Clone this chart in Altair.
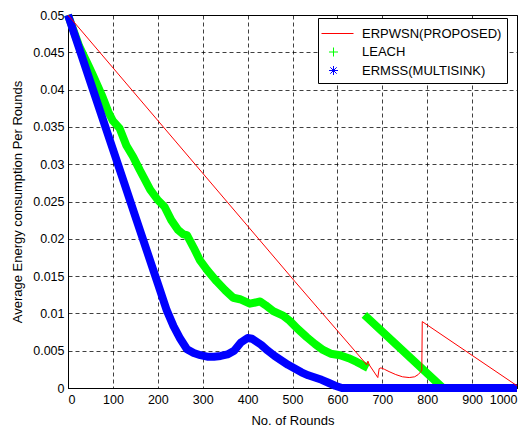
import altair as alt
import pandas as pd

series_names = ["ERPWSN(PROPOSED)", "LEACH", "ERMSS(MULTISINK)"]
series_colors = ["#FF0000", "#00FF00", "#0000FF"]

x_ticks = [0, 100, 200, 300, 400, 500, 600, 700, 800, 900, 1000]
y_ticks = [0, 0.005, 0.01, 0.015, 0.02, 0.025, 0.03, 0.035, 0.04, 0.045, 0.05]

# ERPWSN(PROPOSED)
red_rounds = [0, 505, 660, 665, 668, 671, 690, 693, 697, 705, 715, 730, 745, 760, 772, 780, 786, 788, 789, 1000]
red_values = [0.05, 0.0143, 0.0035, 0.0031, 0.0036, 0.0031, 0.0014, 0.0026, 0.0027, 0.0025, 0.0022, 0.0018,
              0.0015, 0.0014, 0.0015, 0.0018, 0.0022, 0.0024, 0.0089, 0.0003]

# LEACH, first run
green_rounds_1 = [0, 25, 45, 55, 75, 90, 100, 115, 130, 145, 160, 183, 200, 215, 230, 245, 257, 265, 280, 294,
                  310, 331, 350, 368, 383, 405, 428, 440, 457, 479, 494, 510, 532, 550, 568, 585, 606, 625,
                  643, 655, 668]
green_values_1 = [0.05, 0.0458, 0.0433, 0.042, 0.0393, 0.037, 0.0358, 0.0348, 0.0325, 0.031, 0.0292, 0.0266,
                  0.0252, 0.0243, 0.0225, 0.0212, 0.0206, 0.0205, 0.0188, 0.0171, 0.0158, 0.0143, 0.0131,
                  0.0121, 0.0119, 0.0113, 0.0116, 0.0111, 0.0103, 0.0097, 0.009, 0.008, 0.0068, 0.0059,
                  0.0051, 0.0046, 0.0044, 0.004, 0.0035, 0.0031, 0.0027]
# LEACH, second run
green_rounds_2 = [660, 835, 1000]
green_values_2 = [0.0098, 0.0, 0.0]

# ERMSS(MULTISINK)
blue_rounds = [0, 25, 50, 75, 100, 125, 150, 175, 200, 220, 235, 250, 265, 280, 295, 310, 325, 340, 355, 370,
               385, 400, 410, 420, 430, 445, 460, 475, 490, 505, 520, 535, 550, 565, 580, 595, 610, 700, 800,
               900, 1000]
blue_values = [0.05, 0.0455, 0.041, 0.0365, 0.032, 0.0275, 0.023, 0.0185, 0.014, 0.0104, 0.0083, 0.0066,
               0.0052, 0.0047, 0.0044, 0.0042, 0.0042, 0.0043, 0.0045, 0.005, 0.0061, 0.0067, 0.0066, 0.0062,
               0.0058, 0.005, 0.0043, 0.0037, 0.0031, 0.0026, 0.0021, 0.0017, 0.0014, 0.0011, 0.0007, 0.0003,
               0.0, 0.0, 0.0, 0.0, 0.0]


def frame(name, seg, rounds, values):
    return pd.DataFrame({"series": name, "seg": seg, "round": rounds, "value": values,
                         "order": list(range(len(rounds)))})


df_red = frame(series_names[0], "a", red_rounds, red_values)
df_green = pd.concat([frame(series_names[1], "a", green_rounds_1, green_values_1),
                      frame(series_names[1], "b", green_rounds_2, green_values_2)], ignore_index=True)
df_blue = frame(series_names[2], "a", blue_rounds, blue_values)
df_all = pd.concat([df_red, df_green, df_blue], ignore_index=True)

x_enc = alt.X("round:Q", scale=alt.Scale(domain=[0, 1000], nice=False, zero=False),
              axis=alt.Axis(values=x_ticks, title="No. of Rounds", grid=True, format="d",
                            labelPadding=5, titlePadding=9))
y_enc = alt.Y("value:Q", scale=alt.Scale(domain=[0, 0.05], nice=False),
              axis=alt.Axis(values=y_ticks, title="Average Energy consumption Per Rounds", grid=True,
                            format="~g", labelPadding=4, titlePadding=8))

green = alt.Chart(df_green).mark_line(color=series_colors[1], strokeWidth=8, strokeJoin="round").encode(
    x=x_enc, y=y_enc, detail="seg:N", order="order:Q")
blue = alt.Chart(df_blue).mark_line(color=series_colors[2], strokeWidth=8, strokeJoin="round").encode(
    x=x_enc, y=y_enc, order="order:Q")
red = alt.Chart(df_red).mark_line(color=series_colors[0], strokeWidth=1).encode(
    x=x_enc, y=y_enc, order="order:Q")

line_path = "M-1.2,0L2.0,0"
plus_path = "M-0.45,0L0.45,0M0,-0.45L0,0.45"
star_path = "M-0.45,0L0.45,0M0,-0.45L0,0.45M-0.32,-0.32L0.32,0.32M-0.32,0.32L0.32,-0.32"

legend = alt.Legend(title=None, orient="none", legendX=250, legendY=3, fillColor="white",
                    strokeColor="black", padding=5, rowPadding=0.5, symbolSize=400,
                    symbolStrokeWidth=1, symbolOpacity=1, labelFont="Liberation Sans", labelFontSize=13,
                    labelColor="black", labelOffset=18, labelLimit=300, cornerRadius=0)

legend_layer = alt.Chart(df_all).mark_point(opacity=0, filled=False).encode(
    x=x_enc, y=y_enc,
    color=alt.Color("series:N", scale=alt.Scale(domain=series_names, range=series_colors), legend=legend),
    shape=alt.Shape("series:N", scale=alt.Scale(domain=series_names, range=[line_path, plus_path, star_path]),
                    legend=legend),
)

chart = alt.layer(green, blue, red, legend_layer).properties(
    width=449, height=373,
    autosize=alt.AutoSizeParams(type="none"),
    padding={"left": 60, "top": 7, "right": 2, "bottom": 40},
    background="white",
).configure_axis(
    labelFont="Liberation Sans", labelFontSize=12.5, labelColor="black",
    titleFont="Liberation Sans", titleFontSize=13, titleFontWeight="normal", titleColor="black",
    gridColor="black", gridOpacity=0.75, gridDash=[4, 3], gridWidth=1,
    domainColor="black", ticks=False,
).configure_view(stroke="black", strokeWidth=1)

chart.save("out.html", embed_options={"renderer": "svg", "actions": False})
